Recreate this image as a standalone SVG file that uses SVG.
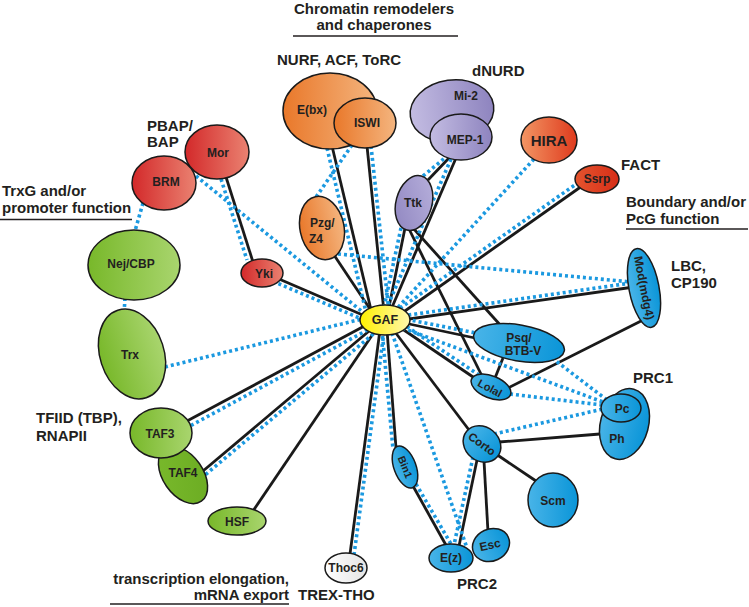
<svg xmlns="http://www.w3.org/2000/svg" width="749" height="607" viewBox="0 0 749 607">
<defs>
<linearGradient id="gOrange" x1="0" y1="0" x2="1" y2="0"><stop offset="0" stop-color="#e9782a"/><stop offset="1" stop-color="#f4b57f"/></linearGradient>
<linearGradient id="gRed" x1="0" y1="0" x2="1" y2="0"><stop offset="0" stop-color="#d3292a"/><stop offset="1" stop-color="#ea8271"/></linearGradient>
<linearGradient id="gHira" x1="0" y1="0" x2="1" y2="0"><stop offset="0" stop-color="#f29664"/><stop offset="1" stop-color="#df3a1d"/></linearGradient>
<linearGradient id="gSsrp" x1="0" y1="0" x2="1" y2="0"><stop offset="0" stop-color="#e4542e"/><stop offset="1" stop-color="#d62e17"/></linearGradient>
<linearGradient id="gPurple" x1="0" y1="0" x2="1" y2="0"><stop offset="0" stop-color="#c3bce2"/><stop offset="1" stop-color="#8e84bf"/></linearGradient>
<linearGradient id="gPurple2" x1="0" y1="1" x2="1" y2="0"><stop offset="0" stop-color="#8e84bf"/><stop offset="1" stop-color="#b9b2dd"/></linearGradient>
<linearGradient id="gGreen" x1="0" y1="0" x2="1" y2="0"><stop offset="0" stop-color="#78b82a"/><stop offset="1" stop-color="#a9d56e"/></linearGradient>
<linearGradient id="gGreenD" x1="0" y1="0" x2="1" y2="1"><stop offset="0" stop-color="#7aba2c"/><stop offset="1" stop-color="#6aab22"/></linearGradient>
<linearGradient id="gBlue" x1="0" y1="0" x2="1" y2="0"><stop offset="0" stop-color="#48b4e8"/><stop offset="1" stop-color="#0a95d8"/></linearGradient>
<linearGradient id="gYellow" x1="0" y1="0" x2="1" y2="0"><stop offset="0" stop-color="#fff000"/><stop offset="1" stop-color="#fff7ae"/></linearGradient>
<linearGradient id="gGrey" x1="0" y1="0" x2="1" y2="0"><stop offset="0" stop-color="#ffffff"/><stop offset="1" stop-color="#e4e4e4"/></linearGradient>
</defs>
<style>
.n{stroke:#1a1a1a;stroke-width:1.5}
.t{font-family:"Liberation Sans",Arial,sans-serif;font-weight:bold;font-size:12px;fill:#231f20;text-anchor:middle}
.ts{font-family:"Liberation Sans",Arial,sans-serif;font-weight:bold;font-size:12px;fill:#231f20}
.l{font-family:"Liberation Sans",Arial,sans-serif;font-weight:bold;font-size:15px;fill:#231f20}
.s{stroke:#1a1a1a;stroke-width:2.8;fill:none}
.d{stroke:#1b99e0;stroke-width:3.6;stroke-dasharray:3 3;fill:none}
.u{stroke:#231f20;stroke-width:1.5}
</style>
<rect width="749" height="607" fill="#ffffff"/>

<g id="connectors">
<path class="s" d="M332 146L372 314"/>
<path class="s" d="M367 146L384 312"/>
<path class="s" d="M334 255L372 312"/>
<path class="s" d="M405 228L388 312"/>
<path class="s" d="M456 158L390 312"/>
<path class="s" d="M428 180L449 158"/>
<path class="s" d="M582 186L395 318"/>
<path class="s" d="M634 287L395 321"/>
<path class="s" d="M395 321L475 338"/>
<path class="s" d="M395 324L476 379"/>
<path class="s" d="M392 328L469 430"/>
<path class="s" d="M387 330L396 448"/>
<path class="s" d="M380 330L350 554"/>
<path class="s" d="M377 328L253 511"/>
<path class="s" d="M375 326L203 471"/>
<path class="s" d="M370 323L187 421"/>
<path class="s" d="M365 316L279 279"/>
<path class="s" d="M226 177L253 262"/>
<path class="s" d="M413 228L502 327"/>
<path class="s" d="M409 229L483 378"/>
<path class="s" d="M643 320L506 389"/>
<path class="s" d="M503 358L495 378"/>
<path class="s" d="M499 442L600 434"/>
<path class="s" d="M496 454L536 481"/>
<path class="s" d="M484 461L488 532"/>
<path class="s" d="M477 460L459 546"/>
<path class="s" d="M413 486L447 547"/>

<path class="d" d="M327 148L366 312"/>
<path class="d" d="M371 146L389 312"/>
<path class="d" d="M352 145L314 200"/>
<path class="d" d="M338 254L631 282"/>
<path class="d" d="M401 228L383 312"/>
<path class="d" d="M451 159L385 312"/>
<path class="d" d="M423 176L446 157"/>
<path class="d" d="M534 159L392 314"/>
<path class="d" d="M579 182L392 314"/>
<path class="d" d="M631 283L395 317"/>
<path class="d" d="M395 317L476 333"/>
<path class="d" d="M397 320L479 375"/>
<path class="d" d="M397 326L603 402"/>
<path class="d" d="M552 358L607 400"/>
<path class="d" d="M510 394L602 405"/>
<path class="d" d="M494 434L603 409"/>
<path class="d" d="M392 333L467 548"/>
<path class="d" d="M473 457L454 545"/>
<path class="d" d="M416 484L451 544"/>
<path class="d" d="M382 330L393 449"/>
<path class="d" d="M384 332L354 555"/>
<path class="d" d="M378 330L205 475"/>
<path class="d" d="M373 327L190 426"/>
<path class="d" d="M165 367L362 319"/>
<path class="d" d="M364 320L277 283"/>
<path class="d" d="M196 176L365 314"/>
<path class="d" d="M221 179L247 260"/>
<path class="d" d="M143 203L135 231"/>
<path class="d" d="M125 298L124 314"/>
</g>

<g id="Ebx"><ellipse class="n" cx="330" cy="111" rx="47" ry="38" fill="url(#gOrange)"/><text class="t" x="312" y="114">E(bx)</text></g>
<g id="ISWI"><ellipse class="n" cx="365" cy="123" rx="31" ry="25" fill="url(#gOrange)"/><text class="t" x="367" y="127">ISWI</text></g>
<g id="Pzg"><ellipse class="n" cx="322" cy="228" rx="22" ry="32" transform="rotate(-12 322 228)" fill="url(#gOrange)"/><text class="ts" x="310" y="227">Pzg/</text><text class="ts" x="309" y="243">Z4</text></g>
<g id="Mi2"><ellipse class="n" cx="452" cy="111" rx="42" ry="31" transform="rotate(-8 452 111)" fill="url(#gPurple)"/><text class="t" x="466" y="100">Mi-2</text></g>
<g id="MEP1"><ellipse class="n" cx="461" cy="137" rx="31" ry="23" fill="url(#gPurple)"/><text class="t" x="465" y="144">MEP-1</text></g>
<g id="Ttk"><ellipse class="n" cx="414" cy="203" rx="18" ry="28" transform="rotate(15 414 203)" fill="url(#gPurple2)"/><text class="t" x="413" y="207">Ttk</text></g>
<g id="HIRA"><ellipse class="n" cx="549" cy="140" rx="28" ry="23" fill="url(#gHira)"/><text class="t" x="549" y="146" style="font-size:15px">HIRA</text></g>
<g id="Ssrp"><ellipse class="n" cx="597" cy="179" rx="22" ry="14" fill="url(#gSsrp)"/><text class="t" x="597" y="183">Ssrp</text></g>
<g id="BRM"><ellipse class="n" cx="164" cy="183" rx="32" ry="27" fill="url(#gRed)"/><text class="t" x="166" y="186">BRM</text></g>
<g id="Mor"><ellipse class="n" cx="217" cy="152" rx="32" ry="27" fill="url(#gRed)"/><text class="t" x="218" y="157">Mor</text></g>
<g id="Yki"><ellipse class="n" cx="262" cy="273" rx="21" ry="14" fill="url(#gRed)"/><text class="t" x="264" y="278">Yki</text></g>
<g id="NejCBP"><ellipse class="n" cx="134" cy="265" rx="46" ry="35" fill="url(#gGreen)"/><text class="t" x="131" y="268">Nej/CBP</text></g>
<g id="Trx"><ellipse class="n" cx="132" cy="354" rx="32" ry="46" transform="rotate(-18 132 354)" fill="url(#gGreen)"/><text class="t" x="130" y="359">Trx</text></g>
<g id="TAF4"><ellipse class="n" cx="183" cy="475" rx="20" ry="32" transform="rotate(-35 183 475)" fill="url(#gGreenD)"/><text class="t" x="183" y="477">TAF4</text></g>
<g id="TAF3"><ellipse class="n" cx="161" cy="433" rx="31" ry="25" fill="url(#gGreen)"/><text class="t" x="160" y="438">TAF3</text></g>
<g id="HSF"><ellipse class="n" cx="237" cy="521" rx="29" ry="14" fill="url(#gGreen)"/><text class="t" x="237" y="526">HSF</text></g>
<g id="Thoc6"><ellipse class="n" cx="346" cy="568" rx="21" ry="15" fill="url(#gGrey)"/><text class="t" x="346" y="572">Thoc6</text></g>
<g id="Modmdg4"><ellipse class="n" cx="644" cy="288" rx="15" ry="40" transform="rotate(-11 644 288)" fill="url(#gBlue)"/><text class="t" transform="translate(644 288) rotate(79)" x="0" y="4">Mod(mdg4)</text></g>
<g id="Psq"><ellipse class="n" cx="519" cy="343" rx="46" ry="18" transform="rotate(10 519 343)" fill="url(#gBlue)"/><text class="t" x="519" y="342">Psq/</text><text class="t" x="523" y="355">BTB-V</text></g>
<g id="Lolal"><ellipse class="n" cx="491" cy="387" rx="21" ry="11" transform="rotate(22 491 387)" fill="url(#gBlue)"/><text class="t" transform="translate(490 388) rotate(28)" x="0" y="4" style="font-size:11px">Lolal</text></g>
<g id="PcPh"><ellipse class="n" cx="624.5" cy="424" rx="24" ry="36" transform="rotate(15 624.5 424)" fill="url(#gBlue)"/><text class="t" x="617" y="443">Ph</text><ellipse class="n" cx="621" cy="408" rx="20" ry="14" fill="url(#gBlue)"/><text class="t" x="622" y="413">Pc</text></g>
<g id="Corto"><ellipse class="n" cx="482" cy="444" rx="20" ry="17" transform="rotate(40 482 444)" fill="url(#gBlue)"/><text class="t" transform="translate(482 444) rotate(36)" x="0" y="4" style="font-size:11.5px">Corto</text></g>
<g id="Scm"><ellipse class="n" cx="553" cy="500" rx="25" ry="27" fill="url(#gBlue)"/><text class="t" x="553" y="505">Scm</text></g>
<g id="Bin1"><ellipse class="n" cx="405" cy="467" rx="11" ry="22" transform="rotate(-20 405 467)" fill="url(#gBlue)"/><text class="t" transform="translate(405 467) rotate(68)" x="0" y="3.5" style="font-size:10.5px">Bin1</text></g>
<g id="Ez"><ellipse class="n" cx="451" cy="558" rx="22" ry="14" fill="url(#gBlue)"/><text class="t" x="451" y="562">E(z)</text></g>
<g id="Esc"><ellipse class="n" cx="491" cy="545" rx="19" ry="16" transform="rotate(-25 491 545)" fill="url(#gBlue)"/><text class="t" transform="translate(490 545) rotate(-12)" x="0" y="4">Esc</text></g>
<g id="GAF"><ellipse class="n" cx="385" cy="320" rx="25" ry="15" fill="url(#gYellow)"/><text class="t" x="385" y="324" style="font-size:12.5px">GAF</text></g>

<g id="labels">
<text class="l" x="374" y="14" text-anchor="middle">Chromatin remodelers</text>
<text class="l" x="374" y="30" text-anchor="middle">and chaperones</text>
<line class="u" x1="293" y1="36" x2="458" y2="36"/>
<text class="l" x="277" y="65">NURF, ACF, ToRC</text>
<text class="l" x="472" y="76">dNURD</text>
<text class="l" x="147" y="131">PBAP/</text>
<text class="l" x="147" y="147">BAP</text>
<text class="l" x="2" y="196">TrxG and/or</text>
<text class="l" x="2" y="213">promoter function</text>
<line class="u" x1="0" y1="219.5" x2="132" y2="219.5"/>
<text class="l" x="621" y="170">FACT</text>
<text class="l" x="626" y="207">Boundary and/or</text>
<text class="l" x="626" y="224">PcG function</text>
<line class="u" x1="626" y1="229" x2="748" y2="229"/>
<text class="l" x="671" y="271">LBC,</text>
<text class="l" x="671" y="288">CP190</text>
<text class="l" x="633" y="383">PRC1</text>
<text class="l" x="36" y="423">TFIID (TBP),</text>
<text class="l" x="36" y="441">RNAPII</text>
<text class="l" x="457" y="589">PRC2</text>
<text class="l" x="289" y="584" text-anchor="end">transcription elongation,</text>
<text class="l" x="289" y="600" text-anchor="end">mRNA export</text>
<line class="u" x1="110" y1="604" x2="289" y2="604"/>
<text class="l" x="298" y="600">TREX-THO</text>
</g>
</svg>
